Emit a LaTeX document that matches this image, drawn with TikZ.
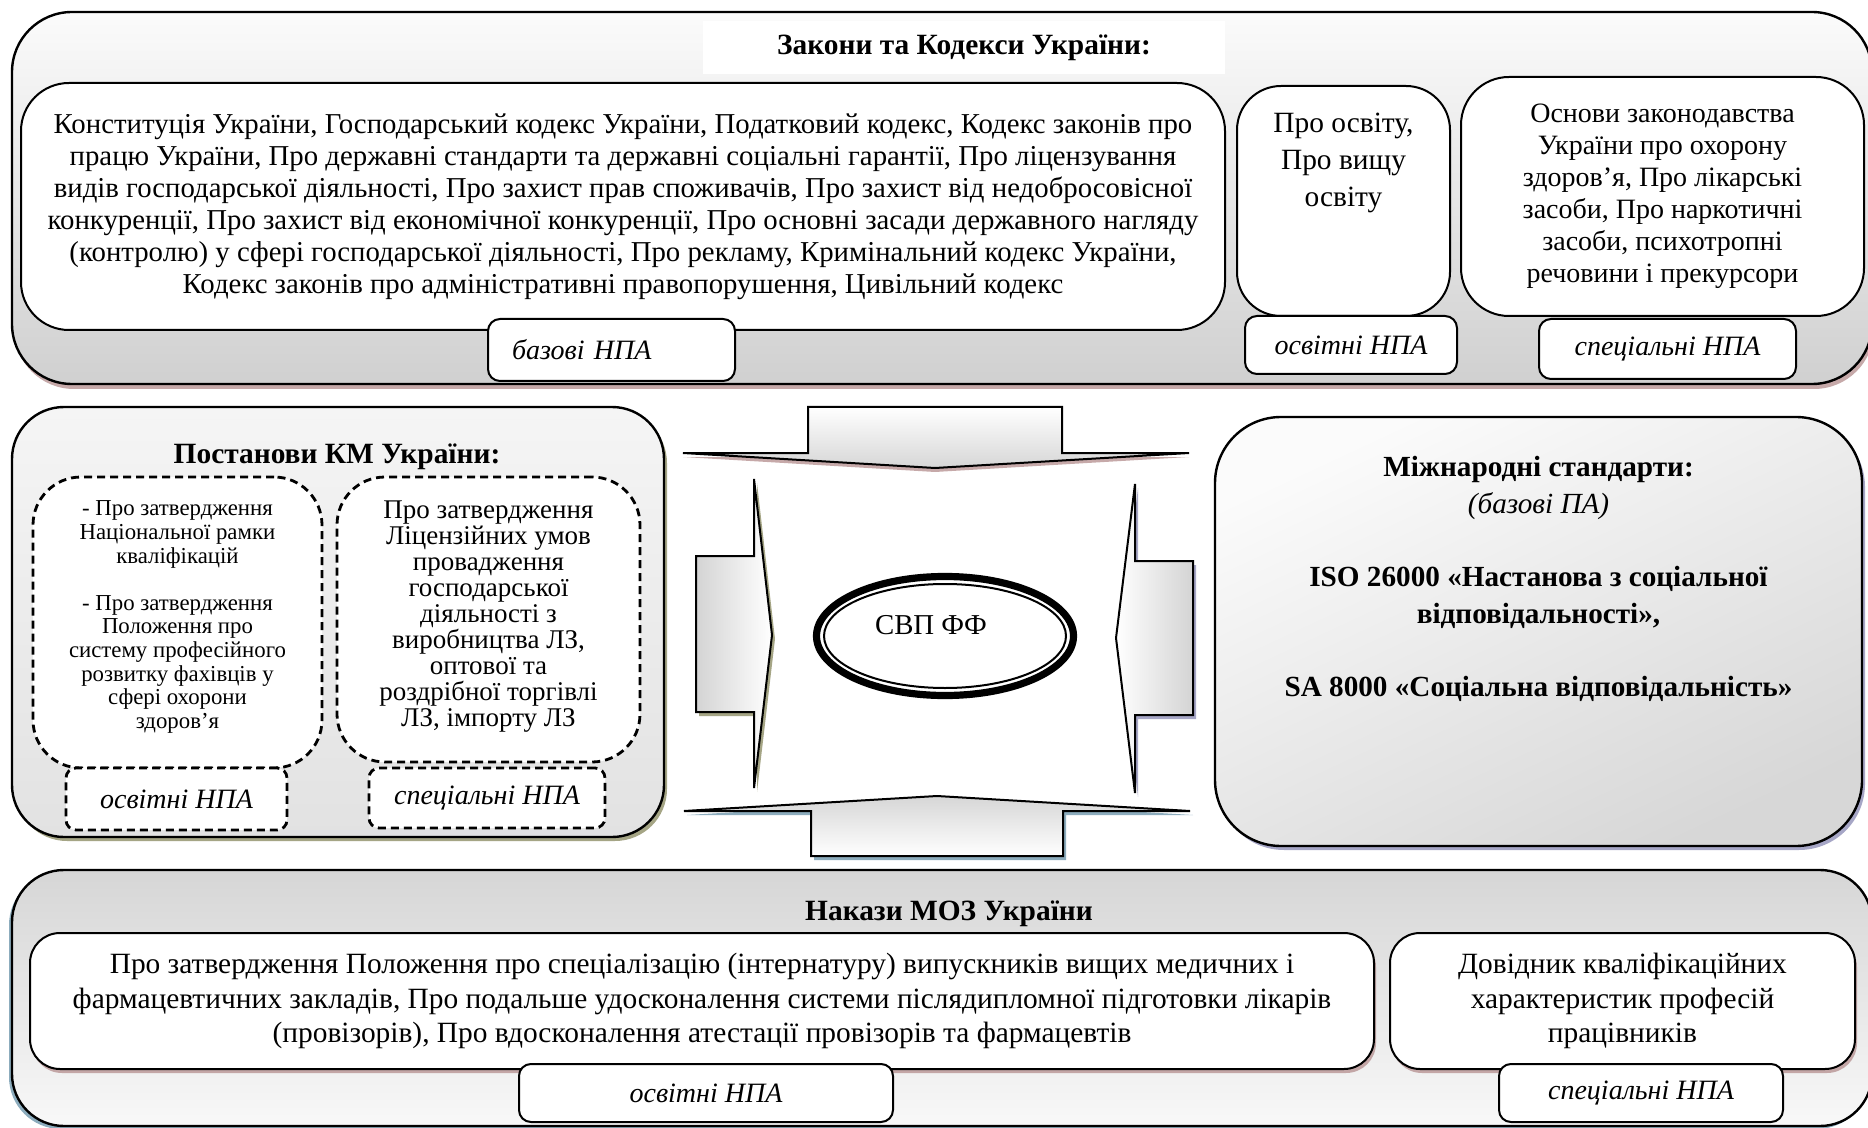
\documentclass[tikz,border=0pt]{standalone}
\usepackage{fontspec}
\setmainfont{Liberation Serif}
\usetikzlibrary{shapes.geometric,shadows}

\definecolor{paleTop}{HTML}{FBFBFB}
\definecolor{greyBot}{HTML}{D0D0D0}
\definecolor{kmTop}{HTML}{F5F5F5}
\definecolor{kmBot}{HTML}{E2E2E2}
\definecolor{mozTop}{HTML}{D6D6D6}
\definecolor{mozBot}{HTML}{F8F8F8}
\definecolor{shadeRed}{HTML}{B89494}
\definecolor{shadeOlive}{HTML}{8E8E66}
\definecolor{shadeViolet}{HTML}{9090B8}
\definecolor{shadeTeal}{HTML}{6F97AC}

\newcommand\fsBody{\fontsize{14.4}{16}\selectfont}
\newcommand\fsHealth{\fontsize{14}{16}\selectfont}
\newcommand\fsEdu{\fontsize{14.7}{18.5}\selectfont}
\newcommand\fsKmA{\fontsize{11.4}{11.8}\selectfont}
\newcommand\fsKmB{\fontsize{13.5}{13}\selectfont}
\newcommand\fsTab{\fontsize{14}{16}\selectfont\itshape}
\newcommand\fsHead{\fontsize{14.7}{16}\selectfont\bfseries}
\newcommand\fsIntl{\fontsize{14.6}{18.5}\selectfont}
\newcommand\fsMoz{\fontsize{14.7}{17.25}\selectfont}

\begin{document}
\begin{tikzpicture}[x=0.5pt,y=-0.5pt,
  panel/.style={draw, line width=1.2pt, inner sep=0pt},
  card/.style={draw, fill=white, line width=1pt, inner sep=0pt, align=center, font=\fsBody},
  tagbox/.style={draw, fill=white, line width=1pt, rounded corners=6pt, inner sep=0pt, font=\fsTab},
  dashcard/.style={draw, fill=white, dash pattern=on 4pt off 2.5pt, line width=1.4pt, inner sep=0pt, align=center},
  dashtag/.style={draw, fill=white, dash pattern=on 4pt off 2.5pt, line width=1.4pt, rounded corners=5pt, inner sep=0pt, font=\fsTab},
  plain/.style={inner sep=0pt, align=center},
  blockarrow/.style={draw, line width=1pt, line join=miter},
]
\useasboundingbox (0,0) rectangle (1868,1128);

% ---------- laws and codes ----------
\node[panel, rounded corners=30pt, minimum width=930pt, minimum height=186pt,
      top color=paleTop, bottom color=greyBot,
      drop shadow={shadow xshift=1pt, shadow yshift=-2.5pt, fill=shadeRed, opacity=0.8}]
      (laws) at (942,198) {};
\node[fill=white, minimum width=261pt, minimum height=26.5pt, inner sep=0pt, font=\fsHead]
      (lawstitle) at (964,47.5) {Закони та Кодекси України:};

\node[card, rounded corners=24pt, minimum width=602pt, minimum height=123.5pt]
      (basic) at (623,206.5) {Конституція України, Господарський кодекс України, Податковий кодекс, Кодекс законів про\\
працю України, Про державні стандарти та державні соціальні гарантії, Про ліцензування\\
видів господарської діяльності, Про захист прав споживачів, Про захист від недобросовісної\\
конкуренції, Про захист від економічної конкуренції, Про основні засади державного нагляду\\
(контролю) у сфері господарської діяльності, Про рекламу, Кримінальний кодекс України,\\
Кодекс законів про адміністративні правопорушення, Цивільний кодекс};
\node[tagbox, minimum width=123.5pt, minimum height=31pt, inner xsep=12pt, text width=99.5pt, align=left]
      (basictag) at (611.5,350) {базові НПА};

\node[card, rounded corners=22pt, minimum width=106.5pt, minimum height=115pt]
      (edu) at (1343.5,201) {};
\node[plain, font=\fsEdu] (edutext) at (1343.5,163) {Про освіту,\\Про вищу\\освіту};
\node[tagbox, minimum width=106pt, minimum height=29pt] (edutag) at (1351,345) {освітні НПА};

\node[card, rounded corners=24pt, minimum width=201.5pt, minimum height=119.5pt, font=\fsHealth]
      (health) at (1662.5,196.5) {Основи законодавства\\України про охорону\\здоров’я, Про лікарські\\засоби, Про наркотичні\\засоби, психотропні\\речовини і прекурсори};
\node[tagbox, minimum width=128.5pt, minimum height=30pt] (healthtag) at (1667.5,349) {спеціальні НПА};

% ---------- cabinet resolutions ----------
\node[panel, rounded corners=26pt, minimum width=326pt, minimum height=215pt,
      top color=kmTop, bottom color=kmBot,
      drop shadow={shadow xshift=1.5pt, shadow yshift=-2pt, fill=shadeOlive, opacity=0.8}]
      (km) at (338,622) {};
\node[plain, font=\fsHead] (kmtitle) at (337,457) {Постанови КМ України:};

\node[dashcard, rounded corners=24pt, minimum width=144.5pt, minimum height=145.5pt]
      (kmedu) at (177.5,622.5) {};
\node[plain, font=\fsKmA] (kmedutext) at (177.5,617)
      {- Про затвердження\\Національної рамки\\кваліфікацій\\[11.8pt]- Про затвердження\\Положення про\\систему професійного\\розвитку фахівців у\\сфері охорони\\здоров’я};
\node[dashcard, rounded corners=24pt, minimum width=151.5pt, minimum height=142.5pt]
      (kmlic) at (488.5,619.5) {};
\node[plain, font=\fsKmB] (kmlictext) at (488.5,617)
      {Про затвердження\\Ліцензійних умов\\провадження\\господарської\\діяльності з\\виробництва ЛЗ,\\оптової та\\роздрібної торгівлі\\ЛЗ, імпорту ЛЗ};
\node[dashtag, minimum width=110.5pt, minimum height=31pt] (kmedutag) at (176.5,799) {освітні НПА};
\node[dashtag, minimum width=118pt, minimum height=30pt] (kmlictag) at (487,798) {спеціальні НПА};

% ---------- international standards ----------
\node[panel, rounded corners=33pt, minimum width=323.5pt, minimum height=214.5pt,
      top color=paleTop, bottom color=greyBot!85!white, shading angle=25,
      drop shadow={shadow xshift=1.5pt, shadow yshift=-2pt, fill=shadeViolet, opacity=0.8}]
      (intl) at (1538.5,631.5) {};
\node[plain, font=\fsIntl] (intltext) at (1538.5,579)
      {\textbf{Міжнародні стандарти:}\\\textit{(базові ПА)}\\[18pt]
       \textbf{ISO 26000 «Настанова з соціальної}\\\textbf{відповідальності»,}\\[18pt]
       \textbf{SA 8000 «Соціальна відповідальність»}};

% ---------- health ministry orders ----------
\node[panel, rounded corners=26pt, minimum width=930pt, minimum height=128pt,
      top color=mozTop, bottom color=mozBot,
      drop shadow={shadow xshift=-1.5pt, shadow yshift=-1.5pt, fill=shadeTeal, opacity=0.8}]
      (moz) at (942,998) {};
\node[plain, font=\fsHead] (moztitle) at (949,914) {Накази МОЗ України};

\node[card, rounded corners=15pt, minimum width=672pt, minimum height=68pt, font=\fsMoz,
      drop shadow={shadow xshift=1pt, shadow yshift=-2pt, fill=shadeRed, opacity=0.8}]
      (mozedu) at (702,1001) {Про затвердження Положення про спеціалізацію (інтернатуру) випускників вищих медичних і\\
фармацевтичних закладів, Про подальше удосконалення системи післядипломної підготовки лікарів\\
(провізорів), Про вдосконалення атестації провізорів та фармацевтів};
\node[tagbox, minimum width=187pt, minimum height=29pt] (mozedutag) at (706,1093) {освітні НПА};

\node[card, rounded corners=15pt, minimum width=232.5pt, minimum height=68pt, font=\fsMoz,
      drop shadow={shadow xshift=1pt, shadow yshift=-2pt, fill=shadeRed, opacity=0.8}]
      (mozref) at (1622.5,1001) {Довідник кваліфікаційних\\характеристик професій\\працівників};
\node[tagbox, minimum width=142pt, minimum height=29pt] (mozreftag) at (1641,1093) {спеціальні НПА};

% ---------- four block arrows converging on the centre ----------
\shadedraw[blockarrow, top color=white, bottom color=black!16,
  drop shadow={shadow xshift=0pt, shadow yshift=-2pt, fill=shadeRed, opacity=0.8}]
  (808,407) -- (1062,407) -- (1062,453) -- (1189,453) -- (935,468) -- (683,453) -- (808,453) -- cycle;
\shadedraw[blockarrow, left color=black!17, right color=white,
  drop shadow={shadow xshift=1.5pt, shadow yshift=-2pt, fill=shadeOlive, opacity=0.8}]
  (696,556) -- (754,556) -- (754,479) -- (772,635) -- (754,788) -- (754,712) -- (696,712) -- cycle;
\shadedraw[blockarrow, left color=white, right color=black!17,
  drop shadow={shadow xshift=1.5pt, shadow yshift=-2pt, fill=shadeViolet, opacity=0.8}]
  (1193,561) -- (1135,561) -- (1135,484) -- (1116,638) -- (1135,793) -- (1135,715) -- (1193,715) -- cycle;
\shadedraw[blockarrow, top color=black!16, bottom color=white,
  drop shadow={shadow xshift=1.5pt, shadow yshift=-2pt, fill=shadeTeal, opacity=0.8}]
  (811,856) -- (1063,856) -- (1063,811) -- (1190,811) -- (937,796) -- (684,811) -- (811,811) -- cycle;

% ---------- central ellipse ----------
\node[ellipse, draw, fill=white, line width=3.6pt, minimum width=128.5pt, minimum height=59.5pt, inner sep=0pt]
      (core) at (945,636) {};
\node[ellipse, draw, line width=1pt, minimum width=121pt, minimum height=52pt, inner sep=0pt]
      (coreinner) at (core.center) {};
\node[plain, font=\fsBody] (coretext) at (931,625) {СВП ФФ};
\end{tikzpicture}
\end{document}
